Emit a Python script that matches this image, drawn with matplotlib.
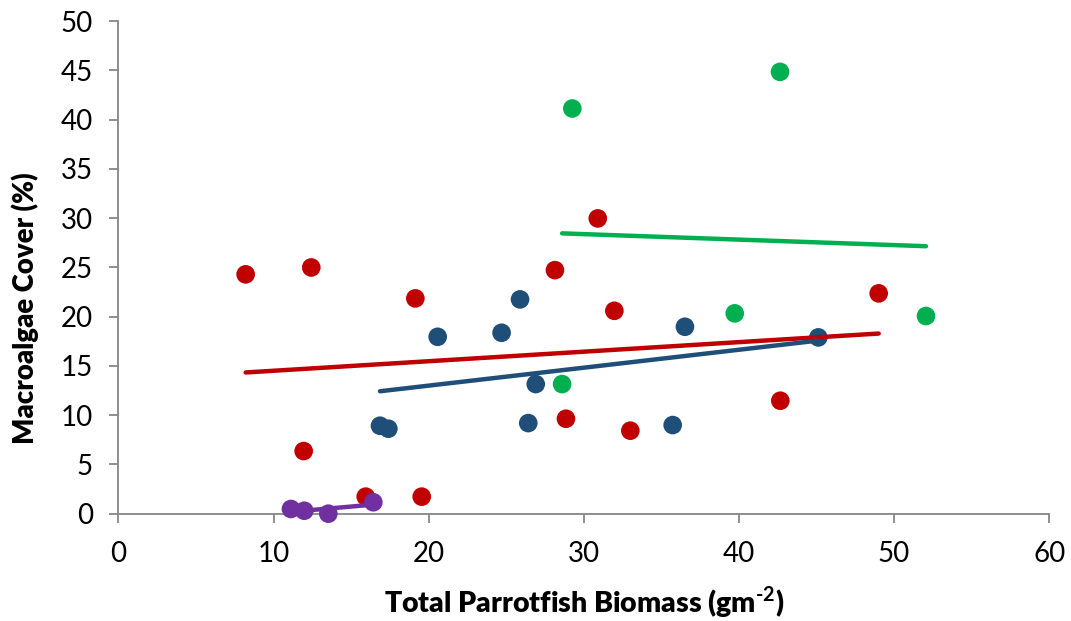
import numpy as np
import matplotlib
matplotlib.use("Agg")
import matplotlib.pyplot as plt

plt.rcParams['font.family'] = ['Lato', 'DejaVu Sans']
plt.rcParams['mathtext.fontset'] = 'custom'
plt.rcParams['mathtext.rm'] = 'Lato'
plt.rcParams['mathtext.bf'] = 'Lato:bold'

# values
red_x = [8.2, 12.43, 11.94, 15.94, 19.55, 19.14, 28.14, 30.9, 31.97, 28.85, 33.0, 42.67, 49.01]
red_y = [24.3, 25.0, 6.36, 1.73, 1.73, 21.86, 24.73, 29.98, 20.6, 9.64, 8.43, 11.47, 22.37]

blue_x = [16.86, 17.4, 20.58, 24.7, 25.89, 26.9, 26.42, 35.73, 36.52, 45.12]
blue_y = [8.93, 8.63, 17.96, 18.37, 21.76, 13.16, 9.2, 9.0, 18.98, 17.9]

green_x = [28.6, 29.26, 39.73, 42.65, 52.06]
green_y = [13.16, 41.14, 20.34, 44.86, 20.07]

purple_x = [11.12, 11.98, 13.53, 16.43]
purple_y = [0.48, 0.3, 0.0, 1.16]

series = [
    (red_x, red_y, '#C00000'),
    (blue_x, blue_y, '#1F4E79'),
    (green_x, green_y, '#00B050'),
    (purple_x, purple_y, '#7030A0'),
]

fig = plt.figure(figsize=(10.71, 6.21), dpi=100)
ax = fig.add_axes([0.1106, 0.1728, 0.869, 0.793])

for xs, ys, col in series:
    xs = np.array(xs)
    ys = np.array(ys)
    ax.scatter(xs, ys, s=180, color=col, edgecolors='none', zorder=3, clip_on=False)
    # linear trendline over the data range
    m, b = np.polyfit(xs, ys, 1)
    xl = np.array([xs.min(), xs.max()])
    ax.plot(xl, m * xl + b, color=col, lw=3.2, solid_capstyle='round', zorder=4)

ax.set_xlim(0, 60)
ax.set_ylim(0, 50)
ax.set_xticks(np.arange(0, 61, 10))
ax.set_yticks(np.arange(0, 51, 5))

for s in ['top', 'right']:
    ax.spines[s].set_visible(False)
for s in ['left', 'bottom']:
    ax.spines[s].set_color('#868686')
    ax.spines[s].set_linewidth(1.3)

ax.tick_params(axis='both', direction='out', length=6.5, width=1.3, color='#868686',
               labelsize=20, labelcolor='black')
ax.tick_params(axis='y', pad=12)
ax.tick_params(axis='x', pad=13)

ax.set_xlabel('Total Parrotfish Biomass (gm$^{\\mathbf{\u20102}}$)',
              fontsize=20.5, fontweight='heavy', labelpad=13)
ax.set_ylabel('Macroalgae Cover (%)', fontsize=19.8, fontweight='heavy')
ax.yaxis.set_label_coords(-0.085, 0.418)

fig.savefig('out.png', dpi=100)
